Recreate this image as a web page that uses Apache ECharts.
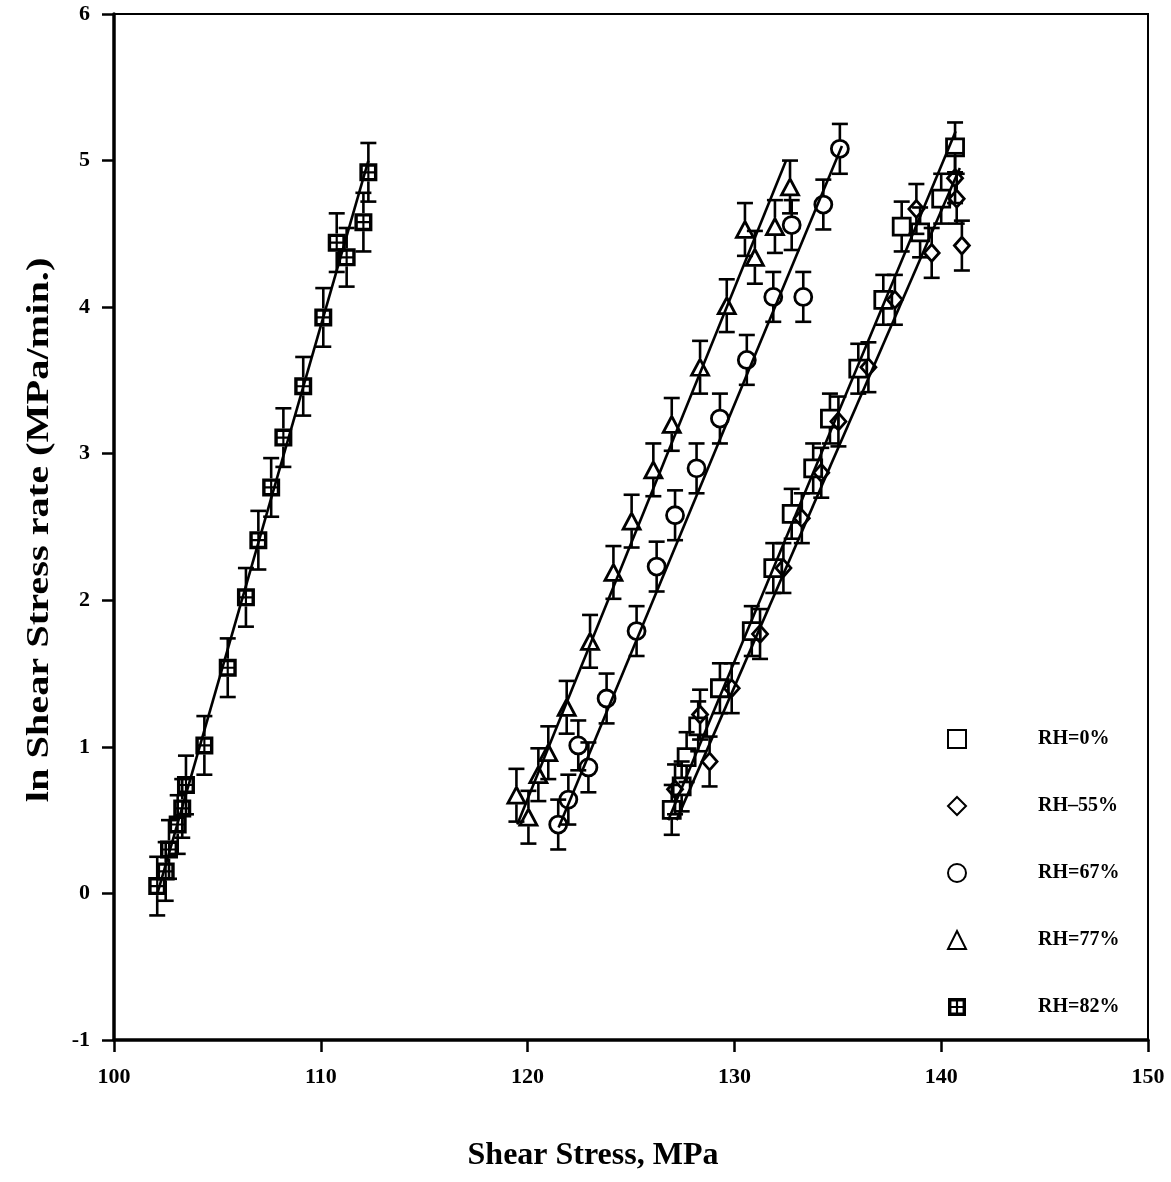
<!DOCTYPE html>
<html>
<head>
<meta charset="utf-8">
<script src="https://cdn.jsdelivr.net/npm/echarts@6/dist/echarts.min.js"></script>
<style>
html,body{margin:0;padding:0;background:#fff;}
#chart{width:1171px;height:1182px;}
</style>
</head>
<body>
<div id="chart"></div>
<script>
// ---- data ----
const seriesNames = ['RH=0%', 'RH=55%', 'RH=67%', 'RH=77%', 'RH=82%'];
const legendLabels = ['RH=0%', 'RH\u201355%', 'RH=67%', 'RH=77%', 'RH=82%'];

const rh0X  = [126.97, 127.45, 127.69, 128.25, 129.30, 130.84, 131.88, 132.77, 133.81, 134.62, 135.99, 137.20, 138.09, 138.98, 140.00, 140.67];
const rh0Y  = [0.57, 0.73, 0.93, 1.14, 1.40, 1.79, 2.22, 2.59, 2.90, 3.24, 3.58, 4.05, 4.55, 4.51, 4.74, 5.09];

const rh55X = [127.13, 128.34, 128.80, 129.87, 131.24, 132.37, 133.26, 134.20, 135.03, 136.48, 137.76, 138.80, 139.54, 140.75, 140.67, 141.00];
const rh55Y = [0.71, 1.22, 0.90, 1.40, 1.77, 2.22, 2.56, 2.87, 3.22, 3.59, 4.05, 4.67, 4.37, 4.74, 4.88, 4.42];

const rh67X = [121.48, 121.97, 122.45, 122.94, 123.82, 125.27, 126.24, 127.13, 128.17, 129.30, 130.60, 131.88, 133.33, 132.77, 134.30, 135.10];
const rh67Y = [0.47, 0.64, 1.01, 0.86, 1.33, 1.79, 2.23, 2.58, 2.90, 3.24, 3.64, 4.07, 4.07, 4.56, 4.70, 5.08];

const rh77X = [119.46, 120.04, 120.52, 121.00, 121.89, 123.02, 124.15, 125.03, 126.08, 126.97, 128.34, 129.63, 130.51, 130.99, 131.96, 132.69];
const rh77Y = [0.67, 0.52, 0.81, 0.96, 1.27, 1.72, 2.19, 2.54, 2.89, 3.20, 3.59, 4.01, 4.53, 4.34, 4.55, 4.82];

const rh82X = [102.09, 102.50, 102.66, 103.08, 103.30, 103.48, 104.37, 105.50, 106.38, 106.98, 107.60, 108.19, 109.15, 110.12, 110.77, 111.25, 112.06, 112.30];
const rh82Y = [0.05, 0.15, 0.30, 0.47, 0.58, 0.74, 1.01, 1.54, 2.02, 2.41, 2.77, 3.11, 3.46, 3.93, 4.44, 4.34, 4.58, 4.92];

// error-bar half heights (ln units) per series
const errHalf = [0.17, 0.17, 0.17, 0.18, 0.20];

// fitted regression lines: [xStart, yStart, xEnd, yEnd]
const fit0  = [126.8, 0.50, 140.7, 5.20];
const fit55 = [127.2, 0.50, 140.9, 4.95];
const fit67 = [121.5, 0.45, 135.2, 5.10];
const fit77 = [119.5, 0.47, 132.5, 5.00];
const fit82 = [102.1, 0.00, 112.3, 5.00];

const xTicks = [100, 110, 120, 130, 140, 150];
const yTicks = [-1, 0, 1, 2, 3, 4, 5, 6];

// ---- chart ----
const FONT = '"Liberation Serif", "Times New Roman", serif';
const xsAll = [rh0X, rh55X, rh67X, rh77X, rh82X];
const ysAll = [rh0Y, rh55Y, rh67Y, rh77Y, rh82Y];
const fits  = [fit0, fit55, fit67, fit77, fit82];

const gridPath = 'path://M0,0H10V10H0Z M1.9,1.9V4.4H4.4V1.9Z M5.6,1.9V4.4H8.1V1.9Z M1.9,5.6V8.1H4.4V5.6Z M5.6,5.6V8.1H8.1V5.6Z';
const symbols = ['rect', 'diamond', 'circle', 'triangle', gridPath];
const symSizes = [[17,17], [15,17], [17,17], [17,16], [18,18]];

function pts(i){ return xsAll[i].map((x, k) => [x, ysAll[i][k]]); }

function errRender(params, api){
  const x = api.value(0), y = api.value(1), e = api.value(2);
  const p = api.coord([x, y]);
  const t = api.coord([x, y + e]);
  const b = api.coord([x, y - e]);
  const r = 9, w = 8;
  const st = {stroke:'#000', lineWidth:2.6};
  const kids = [];
  if (t[1] < p[1] - r) kids.push({type:'line', shape:{x1:p[0], y1:t[1], x2:p[0], y2:p[1]-r}, style:st});
  kids.push({type:'line', shape:{x1:p[0]-w, y1:t[1], x2:p[0]+w, y2:t[1]}, style:st});
  if (b[1] > p[1] + r) kids.push({type:'line', shape:{x1:p[0], y1:p[1]+r, x2:p[0], y2:b[1]}, style:st});
  kids.push({type:'line', shape:{x1:p[0]-w, y1:b[1], x2:p[0]+w, y2:b[1]}, style:st});
  return {type:'group', children:kids};
}

const series = [];
for (let i = 0; i < 5; i++){
  series.push({
    name: 'fit' + i, type:'line', silent:true, symbol:'none', z:2,
    data: [[fits[i][0], fits[i][1]], [fits[i][2], fits[i][3]]],
    lineStyle:{color:'#000', width:2.6}
  });
  series.push({
    name: 'err' + i, type:'custom', silent:true, z:3,
    renderItem: errRender,
    data: xsAll[i].map((x, k) => [x, ysAll[i][k], errHalf[i]])
  });
}
for (let i = 0; i < 5; i++){
  const filled = i === 4;
  series.push({
    name: seriesNames[i], type:'scatter', z:5,
    symbol: symbols[i], symbolSize: symSizes[i],
    data: pts(i),
    itemStyle: filled
      ? {color:'#000', borderWidth:0, opacity:1}
      : {color:'rgba(255,255,255,0)', borderColor:'#000', borderWidth:2.8, opacity:1}
  });
}

const chart = echarts.init(document.getElementById('chart'), null, {renderer:'canvas'});
chart.setOption({
  backgroundColor:'#fff',
  animation:false,
  grid:{left:114, right:23, top:14, bottom:142, show:true, borderColor:'#000', borderWidth:2, backgroundColor:'transparent'},
  legend:{
    orient:'vertical', left:942, top:724,
    itemWidth:18, itemHeight:18, itemGap:47,
    data: seriesNames,
    formatter: n => legendLabels[seriesNames.indexOf(n)],
    textStyle:{fontFamily:FONT, fontWeight:'bold', fontSize:20, color:'#000', padding:[0,0,0,67], lineHeight:18},
    selectedMode:false
  },
  xAxis:{
    type:'value', min:xTicks[0], max:xTicks[xTicks.length-1], interval:10,
    axisLine:{onZero:false, lineStyle:{color:'#000', width:3.5}},
    axisTick:{show:true, length:12, lineStyle:{color:'#000', width:2.5}},
    splitLine:{show:false},
    axisLabel:{margin:26, fontFamily:FONT, fontWeight:'bold', fontSize:22, color:'#000'}
  },
  yAxis:{
    type:'value', min:yTicks[0], max:yTicks[yTicks.length-1], interval:1,
    axisLine:{onZero:false, lineStyle:{color:'#000', width:3.5}},
    axisTick:{show:true, length:12, lineStyle:{color:'#000', width:2.5}},
    splitLine:{show:false},
    axisLabel:{margin:24, fontFamily:FONT, fontWeight:'bold', fontSize:22, color:'#000'}
  },
  graphic:[
    {type:'text', x:40, y:530, rotation:Math.PI/2, scaleX:1.26, z:10,
     style:{text:'ln Shear Stress rate (MPa/min.)', font:'bold 32px ' + FONT, fill:'#000', textAlign:'center', textVerticalAlign:'middle'}},
    {type:'text', x:593, y:1156, z:10,
     style:{text:'Shear Stress, MPa', font:'bold 32px ' + FONT, fill:'#000', textAlign:'center', textVerticalAlign:'middle'}}
  ],
  series: series
});
</script>
</body>
</html>
